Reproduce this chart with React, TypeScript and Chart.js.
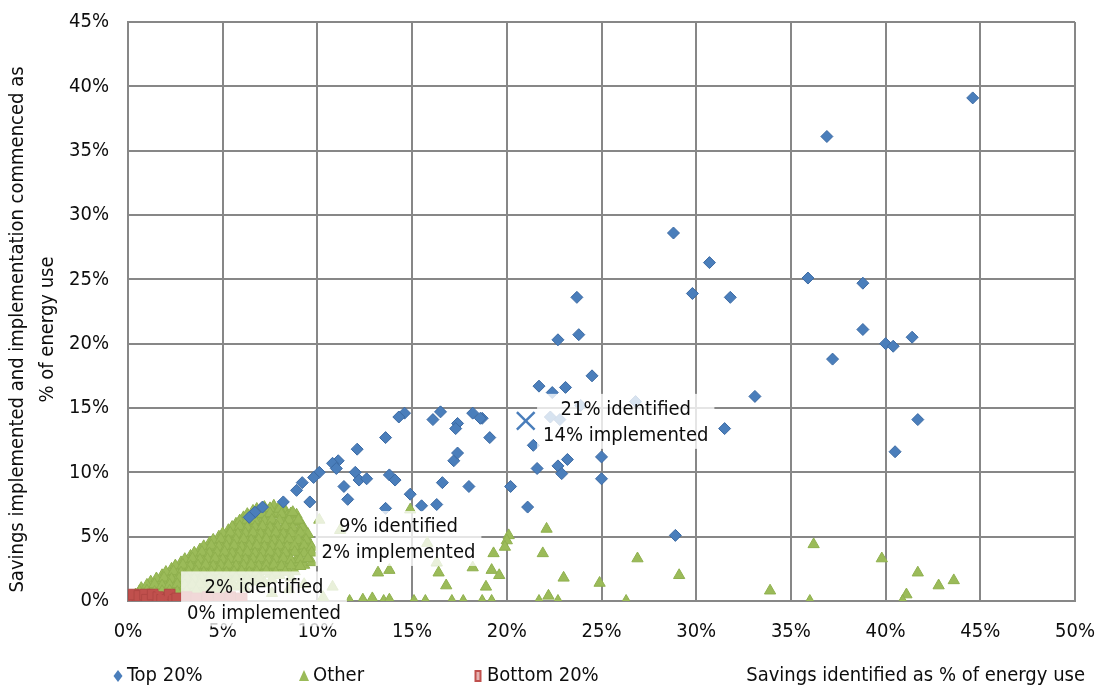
import React, { useEffect, useRef } from 'react';
import { Chart, registerables } from 'chart.js';

Chart.register(...registerables);

const FONT = '"DejaVu Sans Condensed", "DejaVu Sans", sans-serif';

// Tick labels
const xTicks = [0, 5, 10, 15, 20, 25, 30, 35, 40, 45, 50];
const yTicks = [0, 5, 10, 15, 20, 25, 30, 35, 40, 45];

// Series names
const seriesNames = ['Top 20%', 'Other', 'Bottom 20%'];

// Top 20% (x: identified %, y: implemented %)
const topPoints: number[][] = [
  [44.6, 39.1], [36.9, 36.1], [28.8, 28.6], [30.7, 26.3], [29.8, 23.9], [31.8, 23.6],
  [35.9, 25.1], [38.8, 24.7], [38.8, 21.1], [37.2, 18.8], [40.0, 20.0], [40.4, 19.8],
  [41.4, 20.5], [41.7, 14.1], [40.5, 11.6], [33.1, 15.9], [31.5, 13.4], [28.9, 5.1],
  [26.8, 15.5], [23.7, 23.6], [23.8, 20.7], [22.7, 20.3], [24.5, 17.5], [21.7, 16.7],
  [22.4, 16.2], [23.1, 16.6], [25.0, 11.2], [25.0, 9.5], [22.3, 14.3], [22.8, 14.1],
  [23.9, 15.2], [19.1, 12.7], [18.7, 14.2], [21.4, 12.1], [21.6, 10.3], [22.7, 10.5],
  [23.2, 11.0], [22.9, 9.9], [20.2, 8.9], [21.1, 7.3], [14.6, 14.6], [14.3, 14.3],
  [16.5, 14.7], [16.1, 14.1], [17.4, 13.8], [17.3, 13.4], [18.2, 14.6], [18.6, 14.2],
  [13.6, 12.7], [12.1, 11.8], [11.1, 10.9], [10.8, 10.7], [11.0, 10.3], [10.1, 10.0],
  [9.8, 9.6], [9.2, 9.2], [8.9, 8.6], [8.2, 7.7], [9.6, 7.7], [12.0, 10.0],
  [12.2, 9.4], [12.6, 9.5], [11.4, 8.9], [11.6, 7.9], [13.8, 9.8], [14.1, 9.4],
  [14.9, 8.3], [16.6, 9.2], [18.0, 8.9], [17.2, 10.9], [17.4, 11.5], [15.5, 7.4],
  [16.3, 7.5], [13.6, 7.2], [7.1, 7.3], [6.7, 6.9], [6.4, 6.5],
];

// Other - scattered points
const otherScattered: number[][] = [
  [22.1, 5.6], [20.1, 5.1], [20.0, 4.7], [19.9, 4.2], [19.3, 3.7], [21.9, 3.7],
  [26.9, 3.3], [29.1, 2.0], [23.0, 1.8], [24.9, 1.4], [26.3, 0.0], [33.9, 0.8],
  [36.2, 4.4], [36.0, 0.0], [39.8, 3.3], [41.7, 2.2], [42.8, 1.2], [43.6, 1.6],
  [41.1, 0.5], [40.9, 0.0], [16.4, 2.2], [16.8, 1.2], [18.9, 1.1], [19.2, 2.4],
  [19.6, 2.0], [18.2, 2.6], [15.1, 0.0], [15.7, 0.0], [17.1, 0.0], [17.7, 0.0],
  [18.7, 0.0], [19.2, 0.0], [21.7, 0.0], [22.2, 0.4], [22.7, 0.0], [11.7, 0.0],
  [12.4, 0.1], [12.9, 0.2], [13.5, 0.0], [13.8, 0.1], [13.2, 2.2], [13.8, 2.4],
  [10.1, 6.3], [11.2, 5.5], [14.9, 7.1], [15.8, 4.5], [16.3, 3.0], [10.8, 1.1],
  [8.7, 6.9], [9.0, 6.3], [8.5, 0.9], [9.3, 1.3], [10.3, 0.3], [7.6, 0.6],
];

// Other - dense cluster near the origin (main rows)
const otherCluster: number[][] = [
  [7.2, 7.3], [7.7, 7.4], [8.2, 7.3],
  [6.6, 7.0], [7.0, 7.1], [7.4, 7.0], [7.9, 7.1], [8.3, 6.9],
  [6.1, 6.5], [6.5, 6.6], [6.9, 6.6], [7.3, 6.5], [7.8, 6.7], [8.4, 6.6], [8.9, 6.7],
  [5.7, 6.0], [6.1, 6.1], [6.5, 5.9], [7.0, 6.0], [7.4, 6.1], [7.8, 5.9], [8.3, 6.0], [8.8, 6.1], [9.2, 5.9],
  [5.3, 5.5], [5.7, 5.4], [6.1, 5.6], [6.5, 5.5], [6.9, 5.4], [7.3, 5.6], [7.7, 5.5], [8.1, 5.4], [8.5, 5.6], [9.0, 5.5], [9.4, 5.3],
  [4.8, 5.0], [5.2, 4.9], [5.6, 5.1], [6.0, 5.0], [6.4, 4.9], [6.8, 5.1], [7.2, 5.0], [7.6, 4.9], [8.0, 5.1], [8.4, 5.0], [8.9, 4.9], [9.4, 5.0],
  [4.3, 4.5], [4.7, 4.4], [5.1, 4.6], [5.5, 4.5], [5.9, 4.4], [6.3, 4.6], [6.7, 4.5], [7.1, 4.4], [7.5, 4.6], [7.9, 4.5], [8.3, 4.4], [8.7, 4.6], [9.2, 4.5], [9.6, 4.4],
  [3.8, 4.0], [4.2, 3.9], [4.6, 4.1], [5.0, 4.0], [5.4, 3.9], [5.8, 4.1], [6.2, 4.0], [6.6, 3.9], [7.0, 4.1], [7.4, 4.0], [7.8, 3.9], [8.2, 4.1], [8.6, 4.0], [9.1, 3.9], [9.6, 4.0],
  [3.3, 3.5], [3.7, 3.4], [4.1, 3.6], [4.5, 3.5], [4.9, 3.4], [5.3, 3.6], [5.7, 3.5], [6.1, 3.4], [6.5, 3.6], [6.9, 3.5], [7.3, 3.4], [7.7, 3.6], [8.1, 3.5], [8.5, 3.4], [9.0, 3.5], [9.5, 3.3],
  [2.8, 3.0], [3.2, 2.9], [3.6, 3.1], [4.0, 3.0], [4.4, 2.9], [4.8, 3.1], [5.2, 3.0], [5.6, 2.9], [6.0, 3.1], [6.4, 3.0], [6.8, 2.9], [7.2, 3.1], [7.6, 3.0], [8.0, 2.9], [8.4, 3.1], [8.9, 3.0], [9.3, 2.8], [9.7, 3.0],
  [2.3, 2.5], [2.7, 2.4], [3.1, 2.6], [3.5, 2.5], [3.9, 2.4], [4.3, 2.6], [4.7, 2.5], [5.1, 2.4], [5.5, 2.6], [5.9, 2.5], [6.3, 2.4], [6.7, 2.6], [7.1, 2.5], [7.5, 2.4], [7.9, 2.6], [8.4, 2.5], [8.8, 2.3],
  [1.8, 2.0], [2.2, 1.9], [2.6, 2.1], [3.0, 2.0], [3.4, 1.9], [3.8, 2.1], [4.2, 2.0], [4.6, 1.9], [5.0, 2.1], [5.4, 2.0], [5.8, 1.9], [6.2, 2.1], [6.6, 2.0], [7.0, 1.9], [7.5, 2.1], [8.0, 2.0], [8.6, 1.8],
  [1.2, 1.5], [1.6, 1.4], [2.0, 1.6], [2.4, 1.5], [2.8, 1.4], [3.2, 1.6], [3.6, 1.5], [4.0, 1.4], [4.5, 1.6], [5.0, 1.5], [5.5, 1.4], [6.0, 1.6], [6.6, 1.5], [7.2, 1.4],
  [0.7, 1.0], [1.1, 0.9], [1.5, 1.1], [1.9, 1.0], [2.3, 0.9], [2.7, 1.1], [3.1, 1.0], [3.5, 0.9], [4.0, 1.1], [4.5, 1.0], [5.0, 0.9], [5.6, 1.1], [6.2, 1.0],
  [0.4, 0.5], [0.8, 0.4], [1.2, 0.6], [1.6, 0.5], [2.0, 0.4], [2.4, 0.6], [2.8, 0.5], [3.3, 0.4], [3.8, 0.6], [4.4, 0.5], [5.0, 0.4],
];

// Other - dense cluster near the origin (in-between rows)
const otherClusterFill: number[][] = [
  [6.8, 7.15], [7.5, 7.2], [8.0, 7.15],
  [6.3, 6.75], [6.7, 6.8], [7.1, 6.75], [7.5, 6.8], [8.1, 6.75], [8.6, 6.8],
  [5.9, 6.25], [6.3, 6.3], [6.7, 6.25], [7.2, 6.2], [7.6, 6.3], [8.0, 6.25], [8.5, 6.3], [9.0, 6.2],
  [5.5, 5.75], [5.9, 5.8], [6.3, 5.7], [6.7, 5.75], [7.1, 5.8], [7.5, 5.7], [7.9, 5.75], [8.3, 5.8], [8.7, 5.7], [9.2, 5.75],
  [5.0, 5.25], [5.4, 5.3], [5.8, 5.2], [6.2, 5.25], [6.6, 5.3], [7.0, 5.2], [7.4, 5.25], [7.8, 5.3], [8.2, 5.2], [8.6, 5.25], [9.1, 5.3], [9.5, 5.2],
  [4.5, 4.75], [4.9, 4.8], [5.3, 4.7], [5.7, 4.75], [6.1, 4.8], [6.5, 4.7], [6.9, 4.75], [7.3, 4.8], [7.7, 4.7], [8.1, 4.75], [8.5, 4.8], [9.0, 4.7], [9.4, 4.75],
  [4.0, 4.25], [4.4, 4.3], [4.8, 4.2], [5.2, 4.25], [5.6, 4.3], [6.0, 4.2], [6.4, 4.25], [6.8, 4.3], [7.2, 4.2], [7.6, 4.25], [8.0, 4.3], [8.4, 4.2], [8.8, 4.25], [9.3, 4.3], [9.7, 4.2],
  [3.5, 3.75], [3.9, 3.8], [4.3, 3.7], [4.7, 3.75], [5.1, 3.8], [5.5, 3.7], [5.9, 3.75], [6.3, 3.8], [6.7, 3.7], [7.1, 3.75], [7.5, 3.8], [7.9, 3.7], [8.3, 3.75], [8.8, 3.8], [9.3, 3.7], [9.7, 3.75],
  [3.0, 3.25], [3.4, 3.3], [3.8, 3.2], [4.2, 3.25], [4.6, 3.3], [5.0, 3.2], [5.4, 3.25], [5.8, 3.3], [6.2, 3.2], [6.6, 3.25], [7.0, 3.3], [7.4, 3.2], [7.8, 3.25], [8.2, 3.3], [8.6, 3.2], [9.1, 3.25], [9.5, 3.3],
  [2.5, 2.75], [2.9, 2.8], [3.3, 2.7], [3.7, 2.75], [4.1, 2.8], [4.5, 2.7], [4.9, 2.75], [5.3, 2.8], [5.7, 2.7], [6.1, 2.75], [6.5, 2.8], [6.9, 2.7], [7.3, 2.75], [7.7, 2.8], [8.1, 2.7], [8.6, 2.75], [9.1, 2.7],
  [2.0, 2.25], [2.4, 2.3], [2.8, 2.2], [3.2, 2.25], [3.6, 2.3], [4.0, 2.2], [4.4, 2.25], [4.8, 2.3], [5.2, 2.2], [5.6, 2.25], [6.0, 2.3], [6.4, 2.2], [6.8, 2.25], [7.3, 2.3], [7.8, 2.2], [8.3, 2.25],
  [1.5, 1.75], [1.9, 1.8], [2.3, 1.7], [2.7, 1.75], [3.1, 1.8], [3.5, 1.7], [3.9, 1.75], [4.3, 1.8], [4.8, 1.7], [5.2, 1.75], [5.7, 1.8], [6.3, 1.7], [6.9, 1.75], [7.6, 1.7],
  [1.0, 1.25], [1.4, 1.3], [1.8, 1.2], [2.2, 1.25], [2.6, 1.3], [3.0, 1.2], [3.4, 1.25], [3.8, 1.3], [4.3, 1.2], [4.8, 1.25], [5.3, 1.3], [5.9, 1.2],
  [0.6, 0.75], [1.0, 0.8], [1.4, 0.7], [1.8, 0.75], [2.2, 0.8], [2.6, 0.7], [3.1, 0.75], [3.6, 0.8], [4.1, 0.7], [4.7, 0.75],
];

// Bottom 20%
const bottomPoints: number[][] = [
  [0.0, 0.0], [0.1, 0.2], [0.5, 0.1], [0.3, 0.5], [0.6, 0.4], [0.9, 0.5], [1.0, 0.1], [1.3, 0.5],
  [1.6, 0.3], [1.8, 0.1], [2.2, 0.5], [2.4, 0.1], [2.6, 0.2], [3.1, 0.3], [3.6, 0.2], [4.2, 0.3],
  [4.8, 0.2], [5.4, 0.3], [6.0, 0.2],
];

// Group averages (identified %, implemented %) and their labels
const avgTop = [21.0, 14.0];
const avgOther = [9.0, 4.9];
const avgBottom = [1.9, 0.2];
const avgLabelsIdentified = ['21% identified', '9% identified', '2% identified'];
const avgLabelsImplemented = ['14% implemented', '2% implemented', '0% implemented'];

const yTitleLines = ['Savings implemented and implementation commenced as', '% of energy use'];
const xTitle = 'Savings identified as % of energy use';

const BLUE = '#4A7EBB';
const BLUE_B = '#3C6AA3';
const GREEN = '#9BBB59';
const GREEN_B = '#8FB04E';
const RED = '#C0504D';
const RED_B = '#B04744';
const GRID = '#878787';
const TEXT = '#0d0d0d';
const FS = 20;

const toXY = (arr: number[][]) => arr.map(([x, y]) => ({ x, y }));

export default function App() {
  const ref = useRef<HTMLCanvasElement | null>(null);

  useEffect(() => {
    if (!ref.current) return;

    const annotPlugin = {
      id: 'annot',
      afterDatasetsDraw(chart: any) {
        const { ctx, scales } = chart;
        const xs = scales.x;
        const ys = scales.y;
        const avgs = [avgTop, avgOther, avgBottom];
        ctx.save();
        ctx.font = `${FS}px ${FONT}`;
        ctx.textAlign = 'center';
        ctx.textBaseline = 'middle';
        avgs.forEach((p, i) => {
          const px = xs.getPixelForValue(p[0]);
          const py = ys.getPixelForValue(p[1]);
          const cx = px + 100;
          const l1 = avgLabelsIdentified[i];
          const l2 = avgLabelsImplemented[i];
          const w = Math.max(ctx.measureText(l1).width, ctx.measureText(l2).width);
          ctx.fillStyle = 'rgba(255,255,255,0.78)';
          ctx.fillRect(cx - w / 2 - 6, py - 27, w + 12, 55);
          ctx.fillStyle = TEXT;
          ctx.fillText(l1, cx, py - 11);
          ctx.fillText(l2, cx, py + 15);
        });
        ctx.restore();
      },
      afterDraw(chart: any) {
        const { ctx, chartArea } = chart;
        ctx.save();
        ctx.fillStyle = TEXT;
        ctx.font = `${FS}px ${FONT}`;
        ctx.textAlign = 'center';
        ctx.textBaseline = 'middle';
        const cy = (chartArea.top + chartArea.bottom) / 2 + 18;
        // y title
        ctx.save();
        ctx.translate(18, cy);
        ctx.rotate(-Math.PI / 2);
        ctx.fillText(yTitleLines[0], 0, 0);
        ctx.restore();
        ctx.save();
        ctx.translate(48, cy);
        ctx.rotate(-Math.PI / 2);
        ctx.fillText(yTitleLines[1], 0, 0);
        ctx.restore();

        // legend
        const ly = 676;
        ctx.textAlign = 'left';
        const items = [
          { mx: 118, kind: 'diamond' },
          { mx: 304, kind: 'triangle' },
          { mx: 478, kind: 'rect' },
        ];
        items.forEach((it, i) => {
          if (it.kind === 'diamond') {
            ctx.fillStyle = BLUE;
            ctx.beginPath();
            ctx.moveTo(it.mx, ly - 6);
            ctx.lineTo(it.mx + 4.5, ly);
            ctx.lineTo(it.mx, ly + 6);
            ctx.lineTo(it.mx - 4.5, ly);
            ctx.closePath();
            ctx.fill();
          } else if (it.kind === 'triangle') {
            ctx.fillStyle = GREEN;
            ctx.beginPath();
            ctx.moveTo(it.mx, ly - 6);
            ctx.lineTo(it.mx + 5, ly + 5);
            ctx.lineTo(it.mx - 5, ly + 5);
            ctx.closePath();
            ctx.fill();
          } else {
            ctx.fillStyle = RED;
            ctx.fillRect(it.mx - 3.5, ly - 6, 7, 12);
            ctx.fillStyle = '#e6b3b2';
            ctx.fillRect(it.mx - 1.5, ly - 4, 3, 8);
          }
          ctx.fillStyle = TEXT;
          ctx.fillText(seriesNames[i], it.mx + 9, ly);
        });
        ctx.textAlign = 'right';
        ctx.fillText(xTitle, 1085, ly);
        ctx.restore();
      },
    };

    const tickFont = { family: FONT, size: FS };

    const chart = new Chart(ref.current, {
      type: 'scatter',
      data: {
        datasets: [
          {
            label: 'Top avg',
            data: toXY([avgTop]),
            pointStyle: 'crossRot',
            pointRadius: 12.5,
            pointBorderWidth: 2.5,
            pointBorderColor: BLUE,
            pointBackgroundColor: BLUE,
          },
          {
            label: 'Other avg',
            data: toXY([avgOther]),
            pointStyle: 'crossRot',
            pointRadius: 12.5,
            pointBorderWidth: 2.5,
            pointBorderColor: 'rgba(155,187,89,0.55)',
            pointBackgroundColor: 'rgba(155,187,89,0.55)',
          },
          {
            label: 'Bottom avg',
            data: toXY([avgBottom]),
            pointStyle: 'crossRot',
            pointRadius: 12.5,
            pointBorderWidth: 2.5,
            pointBorderColor: RED,
            pointBackgroundColor: RED,
          },
          {
            label: seriesNames[0],
            data: toXY(topPoints),
            pointStyle: 'rectRot',
            pointRadius: 6,
            pointBorderWidth: 1,
            pointBackgroundColor: BLUE,
            pointBorderColor: BLUE_B,
          },
          {
            label: seriesNames[2],
            data: toXY(bottomPoints),
            pointStyle: 'rect',
            pointRadius: 7.5,
            pointBorderWidth: 1,
            pointBackgroundColor: RED,
            pointBorderColor: RED_B,
          },
          {
            label: seriesNames[1],
            data: toXY([...otherCluster, ...otherClusterFill, ...otherScattered]),
            pointStyle: 'triangle',
            pointRadius: 6.5,
            pointBorderWidth: 1,
            pointBackgroundColor: GREEN,
            pointBorderColor: GREEN_B,
          },
        ],
      },
      options: {
        animation: false,
        responsive: false,
        devicePixelRatio: 1,
        layout: { padding: { left: 0, right: 27, top: 22, bottom: 0 } },
        plugins: {
          legend: { display: false },
          tooltip: { enabled: false },
        },
        scales: {
          x: {
            type: 'linear',
            min: xTicks[0],
            max: xTicks[xTicks.length - 1],
            afterBuildTicks: (s: any) => { s.ticks = xTicks.map((v) => ({ value: v })); },
            afterFit: (s: any) => { s.height = 88; s.paddingLeft = 0; s.paddingRight = 0; },
            ticks: {
              callback: (v: any) => `${v}%`,
              font: tickFont,
              color: TEXT,
              padding: 19,
              maxRotation: 0,
            },
            grid: { color: GRID, lineWidth: 2, drawTicks: false },
            border: { display: true, color: GRID, width: 2 },
          },
          y: {
            type: 'linear',
            min: yTicks[0],
            max: yTicks[yTicks.length - 1],
            afterBuildTicks: (s: any) => { s.ticks = yTicks.map((v) => ({ value: v })); },
            afterFit: (s: any) => { s.width = 128; s.paddingTop = 0; s.paddingBottom = 0; },
            ticks: {
              callback: (v: any) => `${v}%`,
              font: tickFont,
              color: TEXT,
              padding: 19,
            },
            grid: { color: GRID, lineWidth: 2, drawTicks: false },
            border: { display: true, color: GRID, width: 2 },
          },
        },
      },
      plugins: [annotPlugin],
    } as any);

    return () => chart.destroy();
  }, []);

  return (
    <div style={{ position: 'fixed', left: 0, top: 0, width: 1102, height: 689, background: '#fff' }}>
      <canvas ref={ref} width={1102} height={689} style={{ display: 'block', width: 1102, height: 689 }} />
    </div>
  );
}
